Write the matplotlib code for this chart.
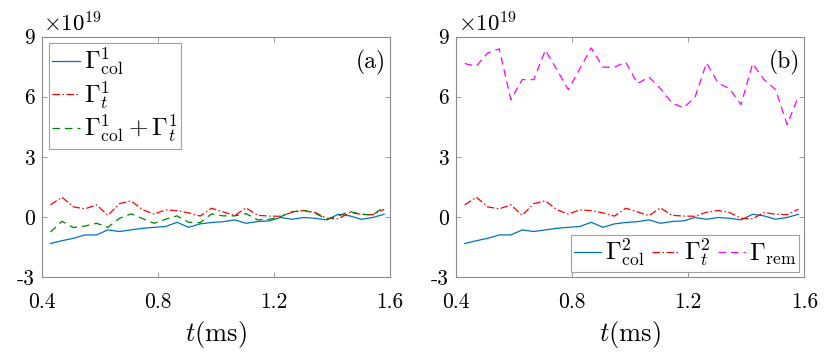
import matplotlib
matplotlib.use("Agg")
import matplotlib.pyplot as plt
from matplotlib.lines import Line2D

plt.rcParams['mathtext.fontset'] = 'cm'
plt.rcParams['font.family'] = 'serif'
plt.rcParams['font.serif'] = ['cmr10']
plt.rcParams['axes.unicode_minus'] = False
plt.rcParams['axes.formatter.use_mathtext'] = True

# time samples (ms)
t = [0.430, 0.470, 0.509, 0.549, 0.589, 0.628, 0.668, 0.708, 0.747, 0.787,
     0.827, 0.866, 0.906, 0.946, 0.985, 1.025, 1.065, 1.104, 1.144, 1.184,
     1.223, 1.263, 1.303, 1.342, 1.382, 1.422, 1.461, 1.501, 1.541, 1.580]

# values in units of 1e19
gamma_col1 = [-1.33, -1.19, -1.07, -0.90, -0.90, -0.65, -0.73, -0.65, -0.57, -0.52,
              -0.48, -0.27, -0.52, -0.35, -0.28, -0.24, -0.15, -0.32, -0.23, -0.20,
              -0.03, -0.12, -0.03, -0.07, -0.15, 0.13, 0.05, -0.12, -0.03, 0.13]
gamma_t1 = [0.60, 0.98, 0.50, 0.40, 0.60, 0.08, 0.66, 0.80, 0.36, 0.14,
            0.35, 0.31, 0.20, 0.04, 0.43, 0.25, 0.06, 0.45, 0.08, 0.04,
            0.03, 0.23, 0.32, 0.22, -0.07, -0.10, 0.22, 0.13, 0.11, 0.38]
gamma_sum1 = [-0.76, -0.22, -0.53, -0.46, -0.32, -0.52, -0.07, 0.15, -0.08, -0.32,
              -0.12, 0.05, -0.27, -0.29, 0.15, 0.05, 0.05, 0.16, -0.15, -0.12,
              0.01, 0.26, 0.32, 0.18, -0.12, 0.05, 0.27, 0.13, 0.09, 0.52]

gamma_col2 = [-1.33, -1.19, -1.07, -0.90, -0.90, -0.65, -0.73, -0.65, -0.57, -0.52,
              -0.48, -0.27, -0.52, -0.35, -0.28, -0.24, -0.15, -0.32, -0.23, -0.20,
              -0.03, -0.12, -0.03, -0.07, -0.15, 0.13, 0.05, -0.12, -0.03, 0.13]
gamma_t2 = [0.60, 0.98, 0.50, 0.40, 0.60, 0.08, 0.66, 0.80, 0.36, 0.14,
            0.35, 0.31, 0.20, 0.04, 0.43, 0.25, 0.06, 0.45, 0.08, 0.04,
            0.03, 0.23, 0.32, 0.22, -0.07, -0.10, 0.22, 0.13, 0.11, 0.38]
gamma_rem = [7.65, 7.52, 8.18, 8.38, 5.85, 6.85, 6.85, 8.32, 7.35, 6.35,
             7.40, 8.43, 7.47, 7.47, 7.72, 6.65, 6.98, 6.40, 5.68, 5.45,
             5.95, 7.68, 6.68, 6.40, 5.60, 7.65, 6.85, 6.35, 4.60, 6.02]

xticks = [0.4, 0.8, 1.2, 1.6]
xticklabels = ['0.4', '0.8', '1.2', '1.6']
yticks = [-3, 0, 3, 6, 9]
yticklabels = ['-3', '0', '3', '6', '9']

c_blue = '#0072BD'
c_red = '#FF0000'
c_green = '#008000'
c_mag = '#FF00FF'
c_axis = '#8a8a8a'

W, H = 830, 357
fig = plt.figure(figsize=(W / 100, H / 100), dpi=100)

def px_axes(x0, x1, ytop, ybot):
    return fig.add_axes([x0 / W, (H - ybot) / H, (x1 - x0) / W, (ybot - ytop) / H])

ax1 = px_axes(41.7, 390, 36.5, 277)
ax2 = px_axes(456, 804.3, 36.5, 277)

lw = 0.9
ax1.plot(t, gamma_col1, color=c_blue, lw=lw, ls='-')
ax1.plot(t, gamma_t1, color=c_red, lw=lw, ls=(0, (6, 2, 1.2, 2)))
ax1.plot(t, gamma_sum1, color=c_green, lw=lw, ls=(0, (6, 4)))

ax2.plot(t, gamma_col2, color=c_blue, lw=lw, ls='-')
ax2.plot(t, gamma_t2, color=c_red, lw=lw, ls=(0, (6, 2, 1.2, 2)))
ax2.plot(t, gamma_rem, color=c_mag, lw=lw, ls=(0, (6, 4)))

for ax, lab in ((ax1, '(a)'), (ax2, '(b)')):
    ax.set_xlim(0.4, 1.6)
    ax.set_ylim(-3, 9)
    ax.set_xticks(xticks)
    ax.set_xticklabels(xticklabels)
    ax.set_yticks(yticks)
    ax.set_yticklabels(yticklabels)
    ax.tick_params(direction='in', length=3.5, width=0.6, color=c_axis,
                   labelsize=15.5, top=True, right=True, labelcolor='black')
    ax.tick_params(axis='x', pad=11)
    ax.tick_params(axis='y', pad=5)
    for s in ax.spines.values():
        s.set_color(c_axis)
        s.set_linewidth(0.8)
    ax.set_xlabel(r'$t(\mathrm{ms})$', fontsize=19, labelpad=5.5)
    ax.text(0.988, 0.894, lab, transform=ax.transAxes, ha='right', va='center',
            fontsize=17)
    ax.text(0.005, 1.005, r'$\times 10^{19}$', transform=ax.transAxes,
            ha='left', va='bottom', fontsize=16.5)

h1 = [Line2D([], [], color=c_blue, lw=lw, ls='-'),
      Line2D([], [], color=c_red, lw=lw, ls=(0, (6, 2, 1.2, 2))),
      Line2D([], [], color=c_green, lw=lw, ls=(0, (6, 4)))]
l1 = [r'$\Gamma^1_{\mathrm{col}}$', r'$\Gamma^1_t$',
      r'$\Gamma^1_{\mathrm{col}}+\Gamma^1_t$']
leg1 = ax1.legend(h1, l1, loc='upper left', bbox_to_anchor=(0.02, 0.975),
                  fontsize=18, frameon=True, fancybox=False, handlelength=1.1,
                  handletextpad=0.15, borderpad=0.15, labelspacing=0.05,
                  borderaxespad=0.0)
leg1.get_frame().set_edgecolor(c_axis)
leg1.get_frame().set_linewidth(0.8)

h2 = [Line2D([], [], color=c_blue, lw=lw, ls='-'),
      Line2D([], [], color=c_red, lw=lw, ls=(0, (6, 2, 1.2, 2))),
      Line2D([], [], color=c_mag, lw=lw, ls=(0, (6, 4)))]
l2 = [r'$\Gamma^2_{\mathrm{col}}$', r'$\Gamma^2_t$', r'$\Gamma_{\mathrm{rem}}$']
leg2 = ax2.legend(h2, l2, loc='lower right', bbox_to_anchor=(0.985, 0.022),
                  ncol=3, fontsize=18, frameon=True, fancybox=False,
                  handlelength=1.1, handletextpad=0.15, borderpad=0.1,
                  columnspacing=0.3, borderaxespad=0.0)
leg2.get_frame().set_edgecolor(c_axis)
leg2.get_frame().set_linewidth(0.8)

fig.savefig('out.png', dpi=100)
